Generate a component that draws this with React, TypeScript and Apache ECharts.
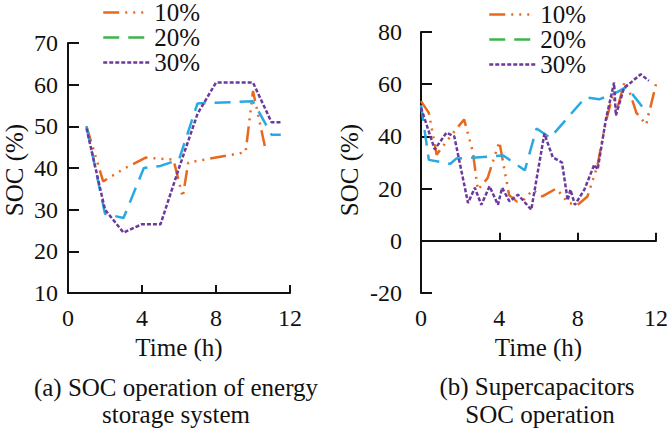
import React, { useEffect, useRef } from "react";
import * as echarts from "echarts";

const seriesNames = ["10%", "20%", "30%"];
const xTicks = { min: 0, max: 12, interval: 4 };

// (a) energy storage system SOC
const soc10A = [[1, 50], [1.9, 36.8], [3.1, 40], [4.2, 42.5], [5.7, 42], [6.2, 33], [6.5, 41.3], [9.6, 43.8], [10, 58.5], [10.7, 44]];
const soc20A = [[1, 50], [2, 29], [3, 28], [4.1, 40], [5, 40.5], [6, 42], [7, 55.5], [10, 56], [11, 48], [11.5, 48]];
const soc30A = [[1, 49.5], [2, 30], [3, 24.5], [4, 26.5], [5, 26.5], [6, 40], [7, 53], [8, 60.5], [10, 60.5], [11, 51], [11.5, 51]];

// (b) supercapacitor SOC
const soc10B = [[0, 53.5], [0.4, 49], [0.8, 33], [1.5, 40], [2.2, 46.5], [2.65, 34], [2.9, 19.5], [3.4, 24], [4.0, 38], [4.5, 17.5], [4.9, 15], [5.3, 16], [5.7, 19.5], [6.2, 17], [6.9, 20], [7.2, 17.5], [7.5, 14.5], [8.0, 13.8], [8.5, 17], [9.0, 28.5], [9.45, 46], [9.8, 56], [10.0, 50], [10.4, 61], [10.7, 56], [11.0, 49], [11.5, 44.5], [12, 60]];
const soc20B = [[0, 52], [0.4, 31], [1.5, 29.5], [1.8, 31.5], [2.6, 31.8], [4.2, 32.7], [5.3, 27], [5.9, 43], [6.6, 39.5], [8.4, 55], [9.1, 54.2], [9.9, 56.5], [10.5, 59], [11.6, 48.5]];
const soc30B = [[0, 51], [0.7, 35], [1.3, 41.4], [1.7, 40], [2.4, 14.5], [2.75, 20.3], [3.08, 13.8], [3.5, 20.9], [3.93, 13.8], [4.14, 20.3], [4.52, 15.1], [4.95, 17.7], [5.63, 11.9], [6.3, 41], [6.73, 32], [7.2, 30], [7.49, 15.5], [7.63, 19.6], [7.86, 13.8], [8.34, 19.6], [8.85, 29.2], [9.02, 27.3], [9.44, 46.5], [9.86, 60.6], [9.95, 48], [10.37, 58.7], [10.71, 60.6], [11.22, 63.8], [11.64, 61.3]];

const yTicksA = { min: 10, max: 70, interval: 10 };
const yTicksB = { min: -20, max: 80, interval: 20 };

const captionA = ["(a) SOC operation of energy", "storage system"];
const captionB = ["(b) Supercapacitors", "SOC operation"];
const xName = "Time (h)";
const yName = "SOC (%)";

const FONT = "Liberation Serif";
const INK = "#111";
const ORANGE = "#e8691c";
const BLUE = "#29a9e1";
const GREEN = "#3db54a";
const PURPLE = "#6b3a9c";

const dashes: any[] = [[16, 6, 2, 6, 2, 6, 2, 6], [16, 9], [4, 2]];
const colors = [ORANGE, BLUE, PURPLE];

export default function App() {
  const ref = useRef<HTMLDivElement>(null);
  useEffect(() => {
    document.body.style.margin = "0";
    const chart = echarts.init(ref.current!, null, { renderer: "svg" });
    const axisLine = { show: true, lineStyle: { color: INK, width: 2 } };
    const txt = (size: number) => ({ fontFamily: FONT, fontSize: size, color: INK });
    const mkX = (gi: number) => ({
      type: "value",
      gridIndex: gi,
      ...xTicks,
      name: xName,
      nameLocation: "middle",
      nameGap: 40,
      nameTextStyle: txt(25),
      axisLine,
      axisTick: { show: true, inside: true, length: 8, lineStyle: { color: INK, width: 2 } },
      axisLabel: { margin: 13, ...txt(24) },
      splitLine: { show: false },
    });
    const mkY = (gi: number, t: any, margin: number) => ({
      type: "value",
      gridIndex: gi,
      ...t,
      axisLine,
      axisTick: { show: true, inside: true, length: 11, lineStyle: { color: INK, width: 2 } },
      axisLabel: { margin, ...txt(24) },
      splitLine: { show: false },
    });
    const dataA = [soc10A, soc20A, soc30A];
    const dataB = [soc10B, soc20B, soc30B];
    const series: any[] = [];
    [dataA, dataB].forEach((set, gi) => {
      set.forEach((d, i) => {
        series.push({
          type: "line",
          name: seriesNames[i],
          xAxisIndex: gi,
          yAxisIndex: gi,
          data: d,
          symbol: "none",
          showSymbol: false,
          lineStyle: { color: colors[i], width: 2.5, type: dashes[i] },
          itemStyle: { color: colors[i] },
        });
      });
    });
    const legendData = seriesNames.map((n, i) =>
      i === 1
        ? { name: n, itemStyle: { color: GREEN, opacity: 0 }, lineStyle: { color: GREEN, type: dashes[1], width: 2.5 } }
        : { name: n, itemStyle: { opacity: 0 }, lineStyle: { color: colors[i], type: dashes[i], width: 2.5 } }
    );
    const mkLegend = (left: number, top: number) => ({
      orient: "vertical",
      left,
      top,
      padding: 0,
      itemGap: 0,
      itemWidth: 46,
      itemHeight: 14,
      selectedMode: false,
      itemStyle: { opacity: 0 },
      data: legendData,
      textStyle: { ...txt(25), lineHeight: 25 },
    });
    const capText = (x: number, y: number, text: string) => ({
      type: "text",
      x,
      y,
      style: { text, fontFamily: FONT, fontSize: 25, fill: INK, textAlign: "center", textVerticalAlign: "middle" },
    });
    const yNameText = (x: number, y: number) => ({
      type: "text",
      x,
      y,
      rotation: Math.PI / 2,
      style: { text: yName, fontFamily: FONT, fontSize: 25, fill: INK, textAlign: "center", textVerticalAlign: "middle" },
    });
    chart.setOption({
      animation: false,
      textStyle: { fontFamily: FONT },
      grid: [
        { left: 68, top: 43, width: 222, height: 250 },
        { left: 421, top: 32, width: 236, height: 261 },
      ],
      xAxis: [mkX(0), mkX(1)],
      yAxis: [mkY(0, yTicksA, 10), mkY(1, yTicksB, 19)],
      legend: [mkLegend(102, 0), mkLegend(488, 2)],
      series,
      graphic: [
        capText(176, 387, captionA[0]),
        capText(176, 414, captionA[1]),
        capText(537, 386, captionB[0]),
        capText(540, 414, captionB[1]),
        yNameText(14, 170),
        yNameText(349, 170),
      ],
    });
    return () => chart.dispose();
  }, []);
  return <div ref={ref} style={{ width: 671, height: 430, position: "absolute", left: 0, top: 0 }} />;
}
